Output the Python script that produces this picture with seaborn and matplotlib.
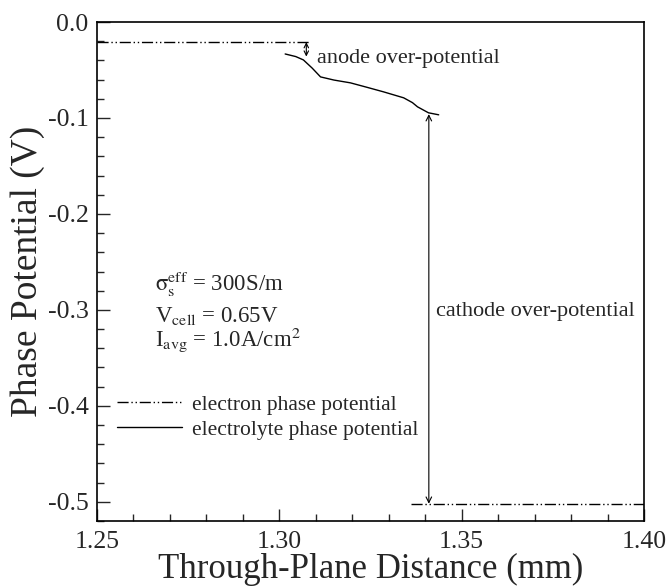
import numpy as np
import pandas as pd
import matplotlib
matplotlib.use('Agg')
import matplotlib.pyplot as plt
import seaborn as sns
from matplotlib.ticker import MultipleLocator, FormatStrFormatter

# ---------------- data ----------------
electron_anode_x = [1.250, 1.3085]
electron_anode_y = [-0.021, -0.021]
electron_cathode_x = [1.336, 1.400]
electron_cathode_y = [-0.502, -0.502]

electrolyte_x = [1.3016, 1.3045, 1.3066, 1.3090, 1.3113, 1.3150, 1.3195, 1.3240,
                 1.3286, 1.3341, 1.3365, 1.3379, 1.3409, 1.3437]
electrolyte_y = [-0.0333, -0.0360, -0.0395, -0.0480, -0.0572, -0.0605, -0.0634, -0.0680,
                 -0.0728, -0.0790, -0.0840, -0.0884, -0.0946, -0.0967]

anode_arrow_x = 1.3074
anode_arrow_y = (-0.021, -0.036)
cathode_arrow_x = 1.341
cathode_arrow_y = (-0.096, -0.502)

x_ticks = [1.25, 1.30, 1.35, 1.40]
y_ticks = [0.0, -0.1, -0.2, -0.3, -0.4, -0.5]
# -----------------------------------------------------------

sns.set_style('ticks')
plt.rcParams['font.family'] = ['Liberation Serif', 'DejaVu Serif']
plt.rcParams['mathtext.fontset'] = 'stix'
plt.rcParams['axes.unicode_minus'] = False

fig = plt.figure(figsize=(6.69, 5.87), dpi=100)
ax = fig.add_axes([0.145, 0.1124, 0.8176, 0.8501])

dash_dot_dot = (0, (8, 2, 1, 2, 1, 2))

df_el_a = pd.DataFrame({'x': electron_anode_x, 'y': electron_anode_y})
df_el_c = pd.DataFrame({'x': electron_cathode_x, 'y': electron_cathode_y})
df_ly = pd.DataFrame({'x': electrolyte_x, 'y': electrolyte_y})

sns.lineplot(data=df_el_a, x='x', y='y', color='black', lw=1.0, linestyle=dash_dot_dot,
             label='electron phase potential', ax=ax, sort=False, estimator=None)
sns.lineplot(data=df_el_c, x='x', y='y', color='black', lw=1.0, linestyle=dash_dot_dot,
             label='_nolegend_', ax=ax, sort=False, estimator=None)
sns.lineplot(data=df_ly, x='x', y='y', color='black', lw=1.0,
             label='electrolyte phase potential', ax=ax, sort=False, estimator=None)

# over-potential arrows
ax.annotate('', xy=(anode_arrow_x, anode_arrow_y[0]), xytext=(anode_arrow_x, anode_arrow_y[1]),
            arrowprops=dict(arrowstyle='<->', color='black', lw=0.8, shrinkA=0, shrinkB=0,
                            mutation_scale=8))
ax.annotate('', xy=(cathode_arrow_x, cathode_arrow_y[0]), xytext=(cathode_arrow_x, cathode_arrow_y[1]),
            arrowprops=dict(arrowstyle='<->', color='black', lw=0.8, shrinkA=0, shrinkB=0,
                            mutation_scale=10))

ax.text(1.3104, -0.0426, 'anode over-potential', fontsize=16, va='baseline', ha='left')
ax.text(1.3429, -0.3067, 'cathode over-potential', fontsize=16, va='baseline', ha='left')

ax.text(1.2659, -0.2807, r'$\mathrm{\sigma}_{\rm s}^{\rm eff}$ = 300S/m', fontsize=16.5, va='baseline')
ax.text(1.2659, -0.3129, r'V$_{\rm cell}$ = 0.65V', fontsize=16.5, va='baseline')
ax.text(1.2659, -0.3378, r'I$_{\rm avg}$ = 1.0A/cm$^2$', fontsize=16.5, va='baseline')

ax.legend(loc='upper left', bbox_to_anchor=(0.021, 0.27), frameon=False, fontsize=15.5,
          handlelength=3.0, handletextpad=0.5, labelspacing=0.22, borderaxespad=0)

ax.set_xlim(1.25, 1.40)
ax.set_ylim(-0.52, 0.0)
ax.set_xticks(x_ticks)
ax.set_yticks(y_ticks)
ax.xaxis.set_major_formatter(FormatStrFormatter('%.2f'))
ax.yaxis.set_major_formatter(FormatStrFormatter('%.1f'))
ax.xaxis.set_minor_locator(MultipleLocator(0.01))
ax.yaxis.set_minor_locator(MultipleLocator(0.02))
ax.tick_params(axis='both', which='major', direction='in', length=9, width=1, labelsize=18.5,
               top=False, right=False)
ax.tick_params(axis='x', which='major', pad=7)
ax.tick_params(axis='y', which='major', pad=6)
ax.tick_params(axis='both', which='minor', direction='in', length=5, width=1,
               top=False, right=False)

for s in ax.spines.values():
    s.set_linewidth(1.2)
    s.set_color('black')

ax.set_xlabel('Through-Plane Distance (mm)', fontsize=25, labelpad=0)
ax.set_ylabel('Phase Potential (V)', fontsize=27, labelpad=2)

fig.savefig('out.png', dpi=100)
